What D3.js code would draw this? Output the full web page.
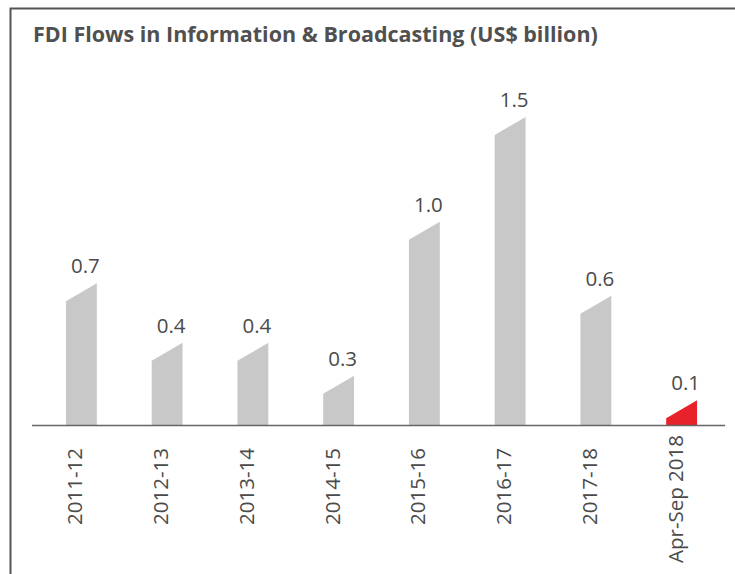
<!DOCTYPE html>
<html>
<head>
<meta charset="utf-8">
<script src="https://cdn.jsdelivr.net/npm/d3@7"></script>
<style>
  body { margin: 0; background: #fff; }
  svg { display: block; }
</style>
</head>
<body>
<svg id="chart" width="735" height="574"></svg>
<script>
// categories, values and printed labels
const periods = ["2011-12", "2012-13", "2013-14", "2014-15", "2015-16", "2016-17", "2017-18", "Apr-Sep 2018"];
const fdiValues = [0.69, 0.40, 0.40, 0.24, 0.99, 1.50, 0.63, 0.12];
const valueLabels = ["0.7", "0.4", "0.4", "0.3", "1.0", "1.5", "0.6", "0.1"];

const width = 735, height = 574;
const base = 425;      // axis line
const slant = 18;      // drop of the bar top from right to left

const svg = d3.select("#chart");

// frame (only top and left edges show in the crop)
svg.append("path")
    .attr("d", "M10.5,574 V8.5 H735")
    .attr("fill", "none")
    .attr("stroke", "#555")
    .attr("stroke-width", 2);

svg.append("text")
    .attr("x", 33)
    .attr("y", 42)
    .attr("font-family", "'Open Sans', sans-serif")
    .attr("font-weight", "bold")
    .attr("font-size", 21.5)
    .attr("fill", "#505050")
    .text("FDI Flows in Information & Broadcasting (US$ billion)");

let x = d3.scaleBand()
    .domain(periods)
    .range([38.5, 724.5])
    .paddingInner(0.64)
    .paddingOuter(0.32);

let y = d3.scaleLinear()
    .domain([0, 1.5])
    .range([base, 117]);

let data = periods.map((p, i) => ({ period: p, value: fdiValues[i], label: valueLabels[i] }));

// slanted-top bars
svg.append("g")
    .selectAll("path")
    .data(data)
    .enter()
    .append("path")
    .attr("d", d => {
        let x0 = x(d.period), x1 = x0 + x.bandwidth();
        let yr = y(d.value);
        let yl = Math.min(y(0) - 4, yr + slant);
        return `M${x0},${y(0)} V${yl} L${x1},${yr} V${y(0)} Z`;
    })
    .attr("fill", (d, i) => i === data.length - 1 ? "#e8222a" : "#c8c8c9");

// axis line
svg.append("line")
    .attr("x1", 32).attr("x2", 725)
    .attr("y1", base + 0.5).attr("y2", base + 0.5)
    .attr("stroke", "#666")
    .attr("stroke-width", 1.5);

// value labels
svg.append("g")
    .selectAll("text")
    .data(data)
    .enter()
    .append("text")
    .attr("x", d => x(d.period) + x.bandwidth() / 2 + 4)
    .attr("y", d => y(d.value) - 10)
    .attr("text-anchor", "middle")
    .attr("font-family", "'Open Sans', sans-serif")
    .attr("font-size", 20.5)
    .attr("fill", "#4a4a4a")
    .text(d => d.label);

// rotated category labels
svg.append("g")
    .selectAll("text")
    .data(data)
    .enter()
    .append("text")
    .attr("transform", (d, i) => `translate(${x(d.period) + x.bandwidth() / 2 + 1},${i === data.length - 1 ? 435 : 448}) rotate(-90)`)
    .attr("text-anchor", "end")
    .attr("font-family", "'Open Sans', sans-serif")
    .attr("font-size", 20.5)
    .attr("fill", "#4a4a4a")
    .text(d => d.period);
</script>
</body>
</html>
